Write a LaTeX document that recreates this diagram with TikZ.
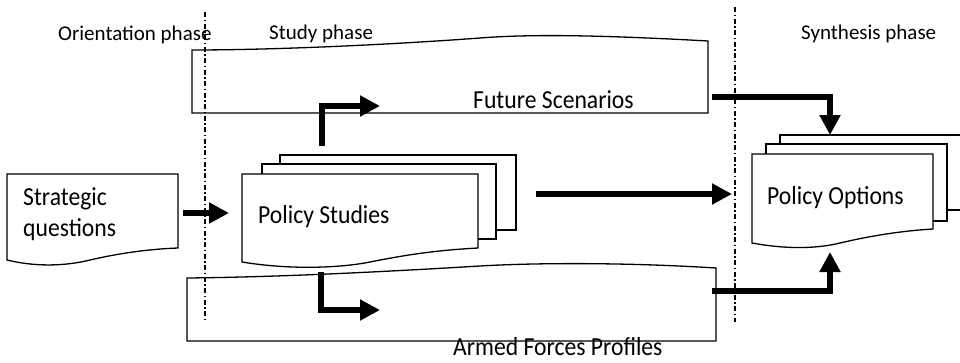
\documentclass[tikz,border=0pt]{standalone}
\usepackage{fontspec}
\setmainfont{Carlito}
\newfontfamily\boxfont{Carlito}[FakeStretch=0.91]
\usetikzlibrary{arrows.meta}

\begin{document}
\begin{tikzpicture}[x=1pt,y=-1pt,
  outline/.style={draw=black, line width=1.3pt, fill=white, line join=miter},
  flow/.style={draw=black, line width=6.5pt, line join=miter,
    -{Triangle[length=20pt,width=20pt]}},
  phaseline/.style={draw=black, line width=1.8pt,
    dash pattern=on 5pt off 2.5pt on 1.5pt off 2.5pt},
  phaselabel/.style={font=\fontsize{21}{25}\selectfont, anchor=base west, inner sep=0pt},
  boxlabel/.style={font=\boxfont\fontsize{26}{31}\selectfont, anchor=base west,
    inner sep=0pt, align=left}]

\useasboundingbox (0,0) rectangle (960,362);
\clip (0,0) rectangle (960,362);

% ---- scenario band (top) ----
\draw[outline] (192,50) .. controls (280,50) and (400,44) .. (480,38)
  .. controls (530,34) and (600,35) .. (708,41) -- (708,113) -- (192,113) -- cycle;
\node[boxlabel] (fs) at (473,108) {Future Scenarios};

% ---- profiles band (bottom) ----
\draw[outline] (187,278) .. controls (280,277) and (380,272) .. (480,266)
  .. controls (530,263) and (620,262) .. (716,268) -- (716,341) -- (187,341) -- cycle;
\node[boxlabel] (afp) at (453,355) {Armed Forces Profiles};

% ---- strategic questions document ----
\draw[outline] (7,174) -- (178,174) -- (178,248)
  .. controls (150,249) and (120,253) .. (90,260)
  .. controls (70,265) and (40,268) .. (7,260) -- cycle;
\node[boxlabel] (sq) at (23,236) {Strategic\\questions};

% ---- policy studies (stacked documents) ----
\draw[outline] (280,155) rectangle (516,230);
\draw[outline] (262,164) rectangle (496,239);
\draw[outline] (242,174) -- (478,174) -- (478,248)
  .. controls (440,250) and (410,254) .. (370,262)
  .. controls (340,268) and (290,270) .. (242,262) -- cycle;
\node[boxlabel] (ps) at (258,223) {Policy Studies};

% ---- policy options (stacked documents) ----
\draw[outline] (780,135) rectangle (975,210);
\draw[outline] (766,144) rectangle (947,221);
\draw[outline] (752,154) -- (933,154) -- (933,229)
  .. controls (900,231) and (870,236) .. (840,243)
  .. controls (820,248) and (790,250) .. (752,243) -- cycle;
\node[boxlabel] (po) at (767,204) {Policy Options};

% ---- phase separators and labels ----
\coordinate (sepA-top) at (205,12);
\coordinate (sepA-bot) at (205,320);
\coordinate (sepB-top) at (735,7);
\coordinate (sepB-bot) at (735,322);
\draw[phaseline] (sepA-top) -- (sepA-bot);
\draw[phaseline] (sepB-top) -- (sepB-bot);

\node[phaselabel] (orient) at (58,40) {Orientation phase};
\node[phaselabel] (study) at (269,39) {Study phase};
\node[phaselabel] (synth) at (801,39) {Synthesis phase};

% ---- flow arrows ----
\coordinate (sq-out) at (183,213);
\coordinate (ps-in) at (229,213);
\coordinate (ps-up) at (322,146);
\coordinate (fs-in) at (380,106);
\coordinate (ps-down) at (321,272);
\coordinate (afp-in) at (380,310);
\coordinate (ps-out) at (536,194);
\coordinate (po-in) at (732,194);
\coordinate (fs-out) at (712,97);
\coordinate (po-top) at (830,135);
\coordinate (afp-out) at (712,291);
\coordinate (po-bot) at (830,252);

\draw[flow] (sq-out) -- (ps-in);
\draw[flow] (ps-up) |- (fs-in);
\draw[flow] (ps-down) |- (afp-in);
\draw[flow] (ps-out) -- (po-in);
\draw[flow] (fs-out) -| (po-top);
\draw[flow] (afp-out) -| (po-bot);
\end{tikzpicture}
\end{document}
